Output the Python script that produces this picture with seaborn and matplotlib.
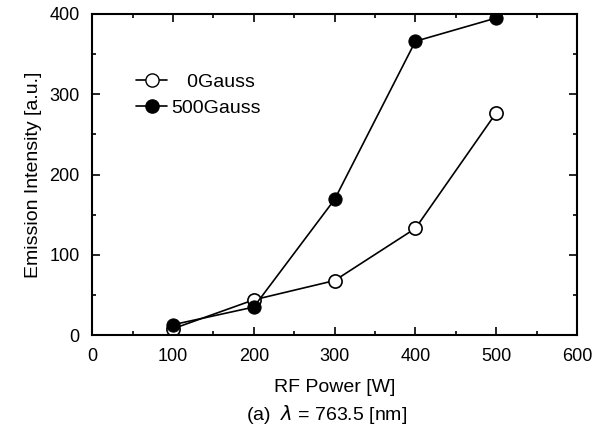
import pandas as pd
import seaborn as sns
import matplotlib.pyplot as plt
from matplotlib.ticker import MultipleLocator
from matplotlib.lines import Line2D

# data
power = [100, 200, 300, 400, 500]
gauss0 = [8, 44, 68, 133, 277]
gauss500 = [13, 35, 169, 366, 395]

df = pd.DataFrame({
    'power': power * 2,
    'intensity': gauss0 + gauss500,
    'field': ['0Gauss'] * 5 + ['500Gauss'] * 5,
})

sns.set_style('ticks')
plt.rcParams['font.family'] = ['Liberation Sans', 'DejaVu Sans']
plt.rcParams['text.color'] = 'black'
plt.rcParams['axes.labelcolor'] = 'black'
plt.rcParams['xtick.color'] = 'black'
plt.rcParams['ytick.color'] = 'black'

fig = plt.figure(figsize=(6.10, 4.37), dpi=100)
ax = fig.add_axes([0.151, 0.233, 0.795, 0.735])

sns.lineplot(data=df[df.field == '0Gauss'], x='power', y='intensity', ax=ax,
             color='black', lw=1.2, marker='o', markersize=9.5,
             markerfacecolor='white', markeredgecolor='black', markeredgewidth=1.2)
sns.lineplot(data=df[df.field == '500Gauss'], x='power', y='intensity', ax=ax,
             color='black', lw=1.2, marker='o', markersize=9.5,
             markerfacecolor='black', markeredgecolor='black')

ax.set_xlim(0, 600)
ax.set_ylim(0, 400)
ax.xaxis.set_major_locator(MultipleLocator(100))
ax.xaxis.set_minor_locator(MultipleLocator(50))
ax.yaxis.set_major_locator(MultipleLocator(100))
ax.yaxis.set_minor_locator(MultipleLocator(50))
ax.tick_params(which='both', direction='in', top=True, right=True, width=1.2, labelsize=13)
ax.tick_params(which='major', length=6, pad=9)
ax.tick_params(which='minor', length=3)
for s in ax.spines.values():
    s.set_linewidth(1.5)
    s.set_color('black')

ax.set_xlabel('RF Power [W]', fontsize=14, labelpad=10)
ax.set_ylabel('Emission Intensity [a.u.]', fontsize=14, labelpad=5)

handles = [
    Line2D([], [], color='black', lw=1.2, marker='o', markersize=9.5,
           markerfacecolor='white', markeredgecolor='black'),
    Line2D([], [], color='black', lw=1.2, marker='o', markersize=9.5,
           markerfacecolor='black'),
]
ax.legend(handles, ['   0Gauss', '500Gauss'], loc='upper left',
          bbox_to_anchor=(0.055, 0.87), frameon=False, fontsize=14,
          handlelength=1.6, handletextpad=0.2, labelspacing=0.45)

fig.text(0.535, 0.038, '(a)  $\\lambda$ = 763.5 [nm]', ha='center', fontsize=14)

fig.savefig('out.png', dpi=100)
